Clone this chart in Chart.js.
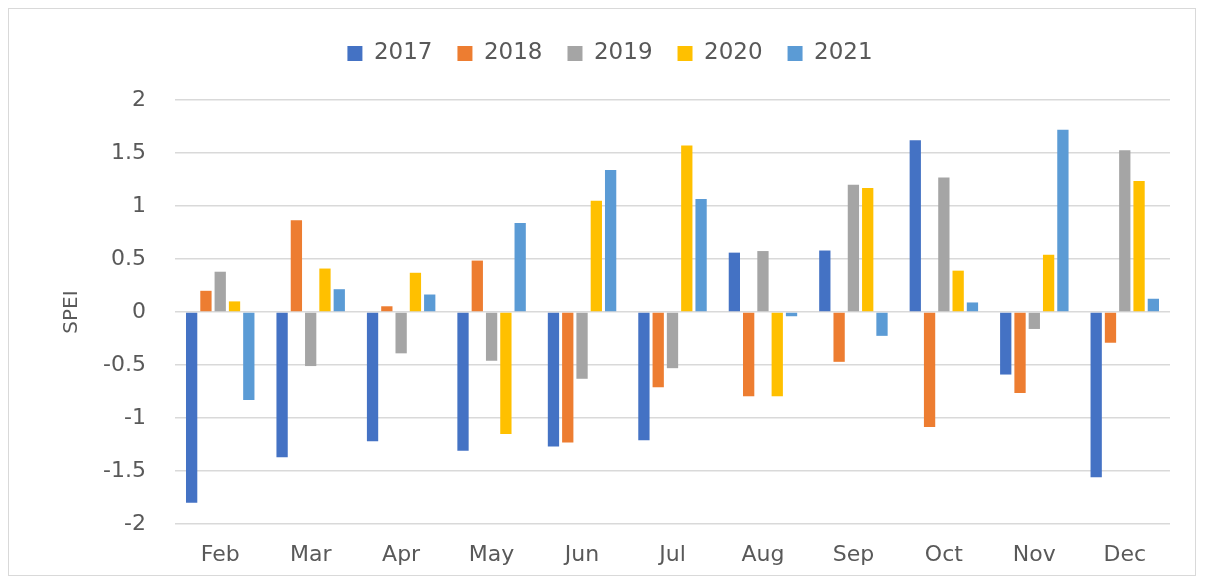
<!DOCTYPE html>
<html>
<head>
<meta charset="utf-8">
<script src="https://cdn.jsdelivr.net/npm/chart.js@4/dist/chart.umd.min.js"></script>
<style>
  html, body { margin: 0; padding: 0; background: #fff; }
  #wrap { position: relative; width: 1205px; height: 580px; }
  #frame { position: absolute; left: 8px; top: 8px; width: 1188px; height: 568px; border: 1px solid #d9d9d9; box-sizing: border-box; pointer-events: none; }
  canvas { position: absolute; left: 0; top: 0; }
</style>
</head>
<body>
<div id="wrap">
  <canvas id="c" width="1205" height="580"></canvas>
  <div id="frame"></div>
</div>
<script>
const categories = ["Feb", "Mar", "Apr", "May", "Jun", "Jul", "Aug", "Sep", "Oct", "Nov", "Dec"];
const seriesNames = ["2017", "2018", "2019", "2020", "2021"];
const v2017 = [-1.80, -1.37, -1.22, -1.31, -1.27, -1.21, 0.56, 0.58, 1.62, -0.59, -1.56];
const v2018 = [0.20, 0.865, 0.054, 0.485, -1.23, -0.71, -0.795, -0.47, -1.085, -0.764, -0.29];
const v2019 = [0.38, -0.51, -0.39, -0.46, -0.63, -0.53, 0.575, 1.20, 1.27, -0.16, 1.525];
const v2020 = [0.10, 0.41, 0.37, -1.15, 1.05, 1.57, -0.795, 1.17, 0.39, 0.54, 1.235];
const v2021 = [-0.83, 0.215, 0.165, 0.84, 1.34, 1.065, -0.04, -0.225, 0.09, 1.72, 0.125];
const yTicks = [2, 1.5, 1, 0.5, 0, -0.5, -1, -1.5, -2];
const colors = ["#4472C4", "#ED7D31", "#A5A5A5", "#FFC000", "#5B9BD5"];

const allValues = [v2017, v2018, v2019, v2020, v2021];
const FONT = "'DejaVu Sans', sans-serif";

const legendHeightPlugin = {
  id: 'legendHeight',
  beforeInit(chart) {
    const orig = chart.legend.fit;
    chart.legend.fit = function () {
      orig.call(this);
      this.height = 83;
    };
  }
};

new Chart(document.getElementById('c'), {
  type: 'bar',
  data: {
    labels: categories,
    datasets: seriesNames.map((n, i) => ({
      label: n,
      data: allValues[i],
      backgroundColor: colors[i],
      borderWidth: 0,
      categoryPercentage: 0.79,
      barPercentage: 0.79
    }))
  },
  options: {
    responsive: false,
    animation: false,
    layout: { padding: { left: 50, right: 35, top: 17, bottom: 0 } },
    plugins: {
      legend: {
        position: 'top',
        labels: {
          boxWidth: 15,
          boxHeight: 15,
          padding: 25,
          color: '#595959',
          font: { family: FONT, size: 23 }
        }
      },
      tooltip: { enabled: false }
    },
    scales: {
      x: {
        grid: { display: false, drawTicks: false },
        border: { display: false },
        ticks: { color: '#595959', padding: 18, font: { family: FONT, size: 22 } },
        afterFit(s) { s.height = 56; }
      },
      y: {
        min: -2, max: 2,
        afterBuildTicks(s) { s.ticks = yTicks.map(v => ({ value: v })); },
        grid: { color: '#d9d9d9', lineWidth: 1.5, drawTicks: false },
        border: { display: false },
        ticks: { color: '#595959', padding: 29, font: { family: FONT, size: 22 }, callback: v => String(v) },
        title: { display: true, text: 'SPEI', color: '#595959', padding: { top: 10, bottom: 0 }, font: { family: FONT, size: 20 } },
        afterFit(s) { s.width = 125; }
      }
    }
  },
  plugins: [legendHeightPlugin]
});
</script>
</body>
</html>
